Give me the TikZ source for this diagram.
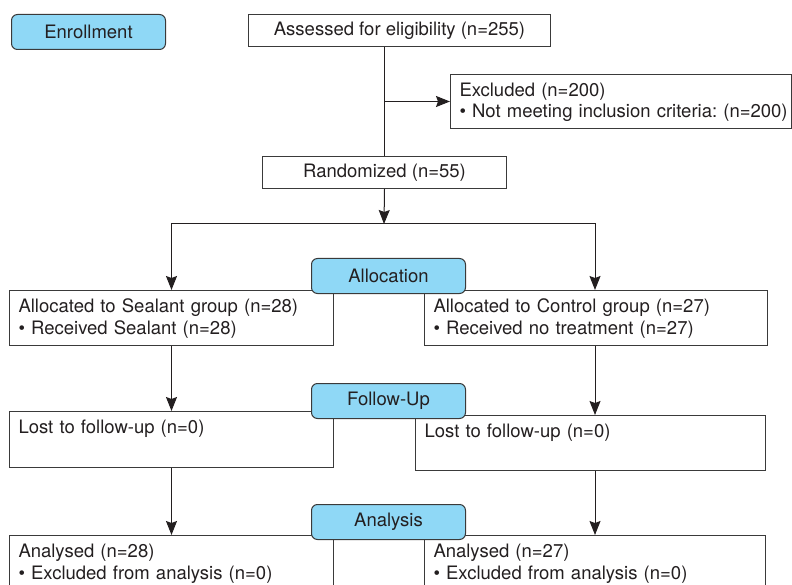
\documentclass[tikz,border=0pt]{standalone}
\usepackage{fontspec}
\setmainfont{TeX Gyre Heros}
\usetikzlibrary{arrows.meta,positioning}
\definecolor{PhaseFill}{HTML}{8FD8F6}
\definecolor{FlowInk}{HTML}{231F20}
\definecolor{FlowEdge}{HTML}{3A3A3A}
\frenchspacing

\begin{document}
\begin{tikzpicture}[x=1pt, y=-1pt,
  font=\fontsize{18.5}{21.5}\selectfont, text=FlowInk,
  phase/.style={draw=FlowEdge, fill=PhaseFill, rounded corners=6pt, line width=1pt,
    minimum width=154pt, minimum height=35pt, anchor=north west, inner sep=0pt},
  plain/.style={draw=FlowEdge, line width=1pt, minimum height=32pt,
    anchor=north west, inner sep=0pt},
  info/.style={draw=FlowEdge, line width=1pt, anchor=north west, align=left,
    inner xsep=9pt, inner ysep=8pt, text height=14pt},
  flow/.style={draw=FlowInk, line width=1pt, -{Stealth[length=14pt,width=11pt,inset=2pt]}}]
  \useasboundingbox (0,0) rectangle (792,585);

  % enrollment
  \node[plain, minimum width=302pt] (assess) at (248,14) {Assessed for eligibility (n=255)};
  \node[info, text width=323pt, text depth=24pt] (excl) at (450,74)
    {Excluded (n=200)\\\mbox{\textbullet{} Not meeting inclusion criteria: (n=200)}};
  \node[plain, minimum width=244pt] (rand) at (262,156) {Randomized (n=55)};
  \coordinate (split) at (384,224);

  % allocation
  \node[info, text width=306pt, text depth=25pt] (seal) at (9,290)
    {Allocated to Sealant group (n=28)\\\textbullet{} Received Sealant (n=28)};
  \node[info, text width=325pt, text depth=25pt] (ctrl) at (424,290)
    {Allocated to Control group (n=27)\\\textbullet{} Received no treatment (n=27)};

  % follow-up
  \node[info, text width=306pt, text depth=26pt] (lostL) at (9,411) {Lost to follow-up (n=0)};
  \node[info, text width=332pt, text depth=25pt] (lostR) at (415,415) {Lost to follow-up (n=0)};

  % analysis
  \node[info, text width=306pt, text depth=50pt] (anaL) at (9,535)
    {Analysed (n=28)\\\textbullet{} Excluded from analysis (n=0)};
  \node[info, text width=323pt, text depth=50pt] (anaR) at (424,535)
    {Analysed (n=27)\\\textbullet{} Excluded from analysis (n=0)};

  % connectors
  \draw[flow, -] (rand.north |- assess.south) -- (rand.north);
  \draw[flow] (rand.north |- excl.west) -- (excl.west);
  \draw[flow] (rand.south) -- (split);
  \draw[flow] (split) -| (seal.north);
  \draw[flow] (split) -| (anaR.north |- ctrl.north);
  \draw[flow] (seal.south) -- (lostL.north);
  \draw[flow] (anaR.north |- ctrl.south) -- (anaR.north |- lostR.north);
  \draw[flow] (lostL.south) -- (anaL.north);
  \draw[flow] (anaR.north |- lostR.south) -- (anaR.north);

  % phase labels
  \node[phase] (enrol) at (11,14) {Enrollment};
  \node[phase] (alloc) at (311,258) {Allocation};
  \node[phase] (follow) at (311,383) {Follow-Up};
  \node[phase] (analysis) at (311,504) {Analysis};
\end{tikzpicture}
\end{document}
